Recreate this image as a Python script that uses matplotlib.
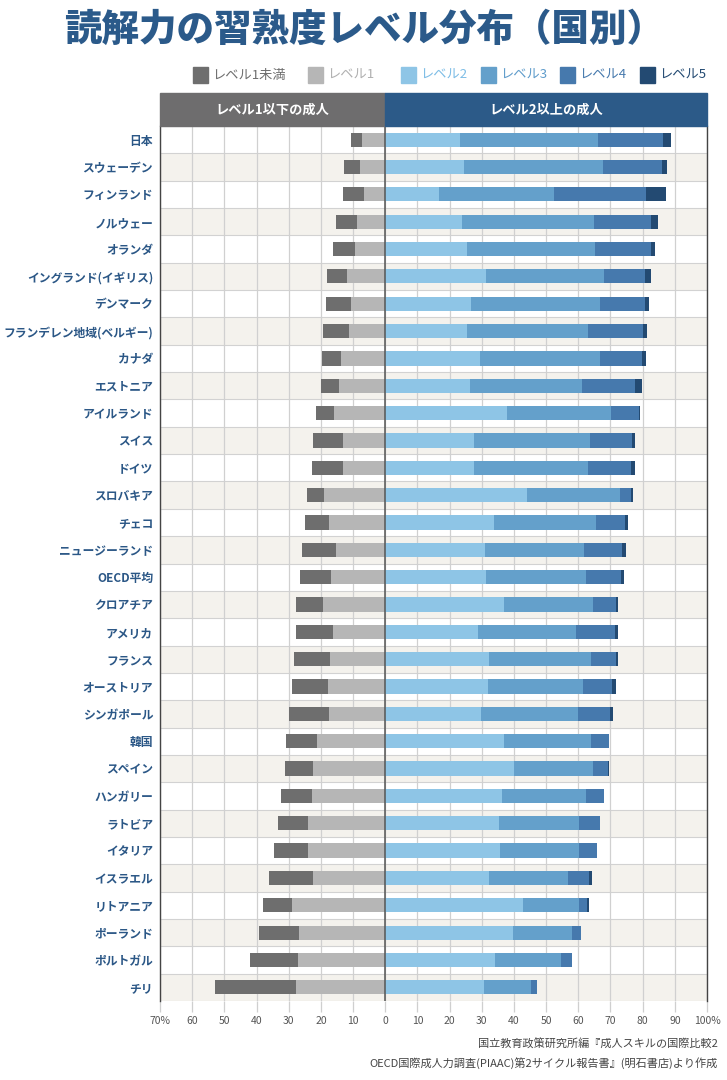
import matplotlib
matplotlib.use("Agg")
import matplotlib.pyplot as plt
from matplotlib.patches import Rectangle
import matplotlib.transforms as mtransforms
import numpy as np

plt.rcParams['font.family'] = ['Noto Sans CJK JP', 'DejaVu Sans']

countries = ["日本", "スウェーデン", "フィンランド", "ノルウェー", "オランダ",
             "イングランド(イギリス)", "デンマーク", "フランデレン地域(ベルギー)",
             "カナダ", "エストニア", "アイルランド", "スイス", "ドイツ", "スロバキア",
             "チェコ", "ニュージーランド", "OECD平均", "クロアチア", "アメリカ",
             "フランス", "オーストリア", "シンガポール", "韓国", "スペイン",
             "ハンガリー", "ラトビア", "イタリア", "イスラエル", "リトアニア",
             "ポーランド", "ポルトガル", "チリ"]

below1 = [3.6, 4.8, 6.4, 6.5, 6.8, 6.1, 7.8, 7.9, 6.0, 5.5, 5.8, 9.3, 9.7, 5.3,
          7.3, 10.5, 9.5, 8.3, 11.4, 10.9, 11.1, 12.4, 9.6, 8.5, 9.6, 9.3, 10.7,
          13.6, 9.0, 12.4, 14.8, 25.2]
level1 = [7.1, 7.9, 6.6, 8.8, 9.4, 11.9, 10.6, 11.4, 13.7, 14.5, 15.8, 13.0, 13.1,
          18.9, 17.6, 15.3, 16.9, 19.3, 16.2, 17.3, 17.9, 17.4, 21.1, 22.6, 22.8,
          24.0, 24.0, 22.4, 29.0, 26.8, 27.1, 27.8]
level2 = [23.3, 24.6, 16.7, 23.8, 25.4, 31.2, 26.7, 25.3, 29.5, 26.4, 37.7, 27.7,
          27.7, 44.1, 33.7, 31.1, 31.4, 36.8, 28.9, 32.4, 32.0, 29.7, 36.9, 40.1,
          36.4, 35.3, 35.7, 32.2, 42.9, 39.8, 34.1, 30.8]
level3 = [42.7, 43.1, 35.6, 41.2, 39.8, 36.8, 40.0, 37.6, 37.2, 34.8, 32.4, 35.8,
          35.4, 28.9, 31.8, 30.8, 31.0, 27.9, 30.3, 31.4, 29.5, 30.1, 26.9, 24.6,
          26.0, 24.9, 24.5, 24.7, 17.3, 18.2, 20.5, 14.4]
level4 = [20.3, 18.3, 28.8, 17.6, 17.4, 12.8, 14.1, 17.1, 13.1, 16.4, 8.7, 13.3,
          13.4, 3.3, 9.1, 11.8, 10.9, 7.1, 12.2, 8.0, 8.9, 9.9, 5.7, 4.5, 5.5,
          6.5, 5.7, 6.3, 2.4, 2.9, 3.5, 2.0]
level5 = [2.6, 1.7, 6.2, 2.1, 1.2, 1.7, 1.2, 1.2, 1.2, 2.3, 0.3, 0.9, 1.2, 0.7,
          1.0, 1.1, 0.8, 0.6, 1.0, 0.6, 1.2, 1.1, 0.0, 0.2, 0.0, 0.2, 0.0, 1.0,
          0.6, 0.0, 0.0, 0.0]

legend_labels = ["レベル1未満", "レベル1", "レベル2", "レベル3", "レベル4", "レベル5"]
header_labels = ["レベル1以下の成人", "レベル2以上の成人"]
xticks = [-70, -60, -50, -40, -30, -20, -10, 0, 10, 20, 30, 40, 50, 60, 70, 80, 90, 100]
xtick_labels = ["70%", "60", "50", "40", "30", "20", "10", "0", "10", "20", "30",
                "40", "50", "60", "70", "80", "90", "100%"]
title = "読解力の習熟度レベル分布（国別）"
source_lines = ["国立教育政策研究所編『成人スキルの国際比較2",
                "OECD国際成人力調査(PIAAC)第2サイクル報告書』(明石書店)より作成"]

colors = ["#6e6e6e", "#b6b6b6", "#8ec5e6", "#64a0cb", "#4679ad", "#234a72"]
legend_text_colors = ["#6e6e6e", "#b0b0b0", "#7dbde6", "#5f9ccb", "#4679ad", "#234a72"]
navy = "#2b5786"

fig = plt.figure(figsize=(7.27, 10.8), dpi=100)
ax = fig.add_axes([160 / 727, 1 - 1001 / 1080, (707 - 160) / 727, (1001 - 126) / 1080])

n = len(countries)
y = np.arange(n)
ax.set_xlim(-70, 100)
ax.set_ylim(n - 0.5, -0.5)

# row backgrounds
for i in range(n):
    if i % 2 == 1:
        ax.axhspan(i - 0.5, i + 0.5, color="#f4f2ed", zorder=0, lw=0)
for i in range(n + 1):
    ax.axhline(i - 0.5, color="#d2d2d2", lw=0.8, zorder=1)
for xv in xticks:
    ax.axvline(xv, color="#d0d0d0", lw=0.9, zorder=1)

b1 = np.array(below1)
l1 = np.array(level1)
h = 0.52
ax.barh(y, -l1, left=0, height=h, color=colors[1], zorder=3)
ax.barh(y, -b1, left=-l1, height=h, color=colors[0], zorder=3)
left = np.zeros(n)
for vals, c in zip([level2, level3, level4, level5], colors[2:]):
    v = np.array(vals)
    ax.barh(y, v, left=left, height=h, color=c, zorder=3)
    left = left + v

ax.axvline(0, color="#555555", lw=1.1, zorder=4)

for s in ["top", "bottom"]:
    ax.spines[s].set_visible(False)
for s in ["left", "right"]:
    ax.spines[s].set_color("#444444")
    ax.spines[s].set_linewidth(1.0)

ax.set_yticks(y)
ax.set_yticklabels(countries, fontsize=8.5, fontweight="bold", color=navy)
ax.tick_params(axis="y", length=0, pad=5)
ax.set_xticks(xticks)
ax.set_xticklabels(xtick_labels, fontsize=7.5, color="#555555")
ax.tick_params(axis="x", length=8, color="#cfcfcf", width=0.9, pad=3)

# header bands
trans = mtransforms.blended_transform_factory(ax.transData, ax.transAxes)
hh = 33 / 875
ax.add_patch(Rectangle((-70, 1.0), 70, hh, transform=trans, color="#6e6d6e",
                       clip_on=False, zorder=5))
ax.add_patch(Rectangle((0, 1.0), 100, hh, transform=trans, color="#2c5a88",
                       clip_on=False, zorder=5))
ax.text(-35, 1.0 + hh / 2, header_labels[0], transform=trans, ha="center",
        va="center", color="white", fontsize=9.5, fontweight="bold", zorder=6)
ax.text(50, 1.0 + hh / 2, header_labels[1], transform=trans, ha="center",
        va="center", color="white", fontsize=9.5, fontweight="bold", zorder=6)

# title
fig.text(364 / 727, 1 - 30 / 1080, title, ha="center", va="center",
         fontsize=27, fontweight=900, color="#2b5a8a")

# legend
patch_x = [193, 308, 401, 481, 560, 640]
ly = 75
for px, lab, c, tc in zip(patch_x, legend_labels, colors, legend_text_colors):
    fig.patches.append(Rectangle((px / 727, 1 - (ly + 8) / 1080), 15 / 727, 16 / 1080,
                                 transform=fig.transFigure, color=c))
    fig.text((px + 19) / 727, 1 - ly / 1080, lab, ha="left", va="center",
             fontsize=9.5, color=tc)

# source
fig.text(718 / 727, 1 - 1044 / 1080, source_lines[0], ha="right", va="center",
         fontsize=8, color="#444444")
fig.text(718 / 727, 1 - 1063 / 1080, source_lines[1], ha="right", va="center",
         fontsize=8, color="#444444")

fig.savefig("out.png", dpi=100, facecolor="white")
